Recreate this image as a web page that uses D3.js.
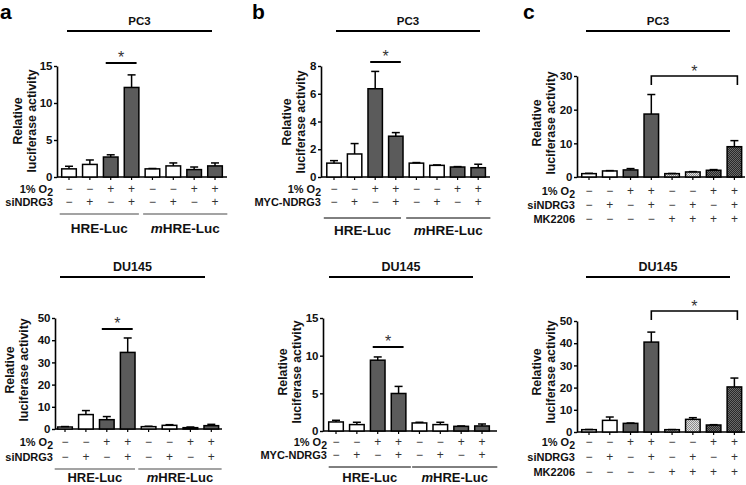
<!DOCTYPE html>
<html><head><meta charset="utf-8">
<script src="https://cdn.jsdelivr.net/npm/d3@7"></script>
<style>body{margin:0;background:#fff}svg{display:block}text{font-family:"Liberation Sans",Arial,Helvetica,sans-serif}</style>
</head><body><svg id="fig" width="746" height="485"></svg>
<script>
// ---------- data ----------
const conditionsAB_O2 = [0,0,1,1,0,0,1,1];
const conditionsAB_si = [0,1,0,1,0,1,0,1];
const conditionsC_O2  = [0,0,1,1,0,0,1,1];
const conditionsC_si  = [0,1,0,1,0,1,0,1];
const conditionsC_MK  = [0,0,0,0,1,1,1,1];

const aPC3Mean   = [1.1, 1.7, 2.7, 12.1, 1.1, 1.5, 1.0, 1.5];
const aPC3Err    = [0.35,0.6, 0.3, 1.7, 0.05,0.4, 0.35,0.4];
const aDU145Mean = [0.9, 6.5, 4.2, 34.5, 1.05,1.65,0.6, 1.5];
const aDU145Err  = [0.2, 1.8, 1.4, 6.5, 0.2, 0.3, 0.3, 0.6];

const bPC3Mean   = [1.0, 1.66,6.36,2.94,1.0, 0.84,0.72,0.67];
const bPC3Err    = [0.18,0.75,1.25,0.26,0.04,0.03,0.03,0.25];
const bDU145Mean = [1.2, 0.85,9.4, 4.98,1.07,0.85,0.62,0.67];
const bDU145Err  = [0.22,0.31,0.43,0.94,0.09,0.31,0.05,0.26];

const cPC3Mean   = [1.0, 1.8, 2.1, 18.7,1.0, 1.5, 2.0, 9.0];
const cPC3Err    = [0.1, 0.1, 0.4, 5.8, 0.05,0.1, 0.2, 1.8];
const cDU145Mean = [1.05,5.25,3.9, 40.5,1.05,5.7, 3.15,20.3];
const cDU145Err  = [0.1, 1.5, 0.15,4.5, 0.05,0.75,0.15,4.0];

const ticks15 = [0,5,10,15];
const ticks8  = [0,2,4,6,8];
const ticks30 = [0,10,20,30];
const ticks50 = [0,10,20,30,40,50];

const groupLabels = ["HRE-Luc","mHRE-Luc"];
const rowLabelO2 = "1% O";
const rowLabelSi = "siNDRG3";
const rowLabelMyc = "MYC-NDRG3";
const rowLabelMK = "MK2206";
const yTitle = ["Relative","luciferase activity"];

// ---------- drawing ----------
const svg = d3.select("#fig");
const defs = svg.append("defs");
function checker(id, c1, c2){
  const p = defs.append("pattern").attr("id",id).attr("width",2).attr("height",2).attr("patternUnits","userSpaceOnUse");
  p.append("rect").attr("width",2).attr("height",2).attr("fill",c1);
  p.append("rect").attr("width",1).attr("height",1).attr("fill",c2);
  p.append("rect").attr("x",1).attr("y",1).attr("width",1).attr("height",1).attr("fill",c2);
}
checker("lightHatch","#e0e0e0","#8a8a8a");
checker("darkHatch","#2a2a2a","#6a6a6a");
const DARK = "#5b5b5b";
const FONT = '"Liberation Sans",Arial,Helvetica,sans-serif';

function panel(cfg){
  const g = svg.append("g");
  const n = cfg.means.length;
  const a = cfg.cx0 - cfg.step/2;
  const x = d3.scaleBand().domain(d3.range(n)).range([a, a + cfg.step*n]).paddingInner(0.3).paddingOuter(0.15);
  const y = d3.scaleLinear().domain([0, cfg.max]).range([cfg.y0, cfg.yTop]);
  const bw = x.bandwidth();
  const cx = i => x(i) + bw/2;

  // y axis
  const ya = g.append("g").attr("transform",`translate(${cfg.axisX},0)`)
    .call(d3.axisLeft(y).tickValues(cfg.ticks).tickSize(3).tickSizeOuter(0).tickPadding(1.5));
  ya.select(".domain").attr("stroke","#000").attr("stroke-width",1.6);
  ya.selectAll(".tick line").attr("stroke","#000").attr("stroke-width",1.4);
  ya.selectAll(".tick text").attr("font-family",FONT).attr("font-weight","bold").attr("font-size",11.5).attr("fill","#111");

  // x axis ticks
  const xa = g.append("g").attr("transform",`translate(0,${cfg.y0})`)
    .call(d3.axisBottom(x).tickSize(3).tickFormat(""));
  xa.select(".domain").remove();
  xa.selectAll(".tick line").attr("stroke","#000").attr("stroke-width",1.2);
  g.append("line").attr("x1",cfg.axisX).attr("x2",cfg.xEnd).attr("y1",cfg.y0).attr("y2",cfg.y0)
    .attr("stroke","#000").attr("stroke-width",1.6);

  // bars
  const idx = d3.range(n);
  g.selectAll("rect.bar").data(idx).join("rect").attr("class","bar")
    .attr("x",i=>x(i)).attr("width",bw)
    .attr("y",i=>y(cfg.means[i])).attr("height",i=>cfg.y0 - y(cfg.means[i]))
    .attr("fill",i=>cfg.fill(i)).attr("stroke","#000").attr("stroke-width",1.5);
  // error bars
  g.selectAll("line.err").data(idx).join("line").attr("class","err")
    .attr("x1",cx).attr("x2",cx).attr("y1",i=>y(cfg.means[i])).attr("y2",i=>y(cfg.means[i]+cfg.errs[i]))
    .attr("stroke","#000").attr("stroke-width",1.5);
  g.selectAll("line.cap").data(idx).join("line").attr("class","cap")
    .attr("x1",i=>cx(i)-4).attr("x2",i=>cx(i)+4).attr("y1",i=>y(cfg.means[i]+cfg.errs[i])).attr("y2",i=>y(cfg.means[i]+cfg.errs[i]))
    .attr("stroke","#000").attr("stroke-width",1.5);

  // y title
  const yt = g.append("text").attr("transform",`translate(${cfg.ytX},${cfg.ytY}) rotate(-90)`)
    .attr("text-anchor","middle").attr("font-family",FONT).attr("font-weight","bold").attr("font-size",12.3).attr("fill","#111");
  yt.append("tspan").attr("x",0).attr("y",0).text(yTitle[0]);
  yt.append("tspan").attr("x",0).attr("y",14).text(yTitle[1]);

  // condition rows
  cfg.rows.forEach((r,k)=>{
    const ry = cfg.rowY[k];
    const t = g.append("text").attr("x",cfg.labelX).attr("y",ry).attr("text-anchor","end")
      .attr("font-family",FONT).attr("font-weight","bold").attr("font-size",11).attr("fill","#111");
    t.append("tspan").text(r.label);
    if (r.sub) t.append("tspan").attr("dy",2.5).attr("font-size",10.5).text(r.sub);
    g.selectAll(null).data(idx).join("text").attr("x",cx).attr("y",ry)
      .attr("text-anchor","middle").attr("font-family",FONT).attr("font-size",12).attr("fill","#333")
      .text(i=> r.vals[i] ? "+" : "\u2212");
  });

  // title over panel
  g.append("text").attr("x",(cfg.titleLine[0]+cfg.titleLine[1])/2).attr("y",cfg.titleY)
    .attr("text-anchor","middle").attr("font-family",FONT).attr("font-weight","bold").attr("font-size",cfg.titleSize).attr("fill","#111")
    .text(cfg.title);
  g.append("line").attr("x1",cfg.titleLine[0]).attr("x2",cfg.titleLine[1]).attr("y1",cfg.titleY+6).attr("y2",cfg.titleY+6)
    .attr("stroke","#000").attr("stroke-width",2);

  // significance
  if (cfg.sig){
    const [i1,i2] = cfg.sig.bars;
    if (cfg.sig.bracket){
      const xl = cx(i1), xr = cx(i2)+3;
      g.append("path").attr("d",`M${xl},${cfg.sig.y+9}V${cfg.sig.y}H${xr}V${cfg.sig.y+9}`)
        .attr("fill","none").attr("stroke","#000").attr("stroke-width",1.6);
      g.append("text").attr("x",(xl+xr)/2).attr("y",cfg.sig.y+1).attr("text-anchor","middle")
        .attr("font-family",FONT).attr("font-size",16).attr("fill","#333").text("*");
    } else {
      const xl = cx(i1)-5, xr = cx(i2)+5;
      g.append("line").attr("x1",xl).attr("x2",xr).attr("y1",cfg.sig.y).attr("y2",cfg.sig.y)
        .attr("stroke","#000").attr("stroke-width",2);
      g.append("text").attr("x",(xl+xr)/2).attr("y",cfg.sig.y).attr("text-anchor","middle")
        .attr("font-family",FONT).attr("font-size",16).attr("fill","#333").text("*");
    }
  }

  // group lines
  if (cfg.groups){
    const gs = [[0,3],[4,7]];
    gs.forEach((gr,k)=>{
      const x1 = x(gr[0]) - cfg.groups.padL, x2 = x(gr[1]) + bw + cfg.groups.padR[k];
      g.append("line").attr("x1",x1).attr("x2",x2).attr("y1",cfg.groups.y).attr("y2",cfg.groups.y)
        .attr("stroke",cfg.groups.color).attr("stroke-width",cfg.groups.width);
      const t = g.append("text").attr("x",(x1+x2)/2).attr("y",cfg.groups.textY).attr("text-anchor","middle")
        .attr("font-family",FONT).attr("font-weight","bold").attr("font-size",cfg.groups.size).attr("fill","#111");
      const lab = groupLabels[k];
      if (lab.startsWith("m")) { t.append("tspan").attr("font-style","italic").text("m"); t.append("tspan").text(lab.slice(1)); }
      else t.text(lab);
    });
  }
}

const fillAB = o2 => i => o2[i] ? DARK : "#fff";
const fillC = i => {
  const o = conditionsC_O2[i], m = conditionsC_MK[i];
  if (!m) return o ? DARK : "#fff";
  return o ? "url(#darkHatch)" : "url(#lightHatch)";
};
const rowsA = [{label:rowLabelO2, sub:"2", vals:conditionsAB_O2},{label:rowLabelSi, vals:conditionsAB_si}];
const rowsB = [{label:rowLabelO2, sub:"2", vals:conditionsAB_O2},{label:rowLabelMyc, vals:conditionsAB_si}];
const rowsC = [{label:rowLabelO2, sub:"2", vals:conditionsC_O2},{label:rowLabelSi, vals:conditionsC_si},{label:rowLabelMK, vals:conditionsC_MK}];

// panel a
panel({means:aPC3Mean, errs:aPC3Err, ticks:ticks15, max:15, cx0:69, step:20.86, y0:177, yTop:66, axisX:57, xEnd:227,
  fill:fillAB(conditionsAB_O2), rows:rowsA, rowY:[193,206], labelX:53, ytX:22, ytY:121,
  title:"PC3", titleY:25, titleSize:11.5, titleLine:[67,212], sig:{bars:[2,3], y:63},
  groups:{y:214, color:"#a3a3a3", width:2, padL:2, padR:[0,5], textY:233, size:13.5}});
panel({means:aDU145Mean, errs:aDU145Err, ticks:ticks50, max:50, cx0:65, step:20.9, y0:429, yTop:318, axisX:55, xEnd:222,
  fill:fillAB(conditionsAB_O2), rows:rowsA, rowY:[446,461], labelX:53, ytX:14, ytY:370,
  title:"DU145", titleY:271, titleSize:12.5, titleLine:[60,205], sig:{bars:[2,3], y:329},
  groups:{y:469, color:"#a3a3a3", width:2, padL:3, padR:[0,3], textY:481.5, size:13}});
// panel b
panel({means:bPC3Mean, errs:bPC3Err, ticks:ticks8, max:8, cx0:334, step:20.6, y0:177, yTop:66, axisX:321, xEnd:490,
  fill:fillAB(conditionsAB_O2), rows:rowsB, rowY:[193,206], labelX:321, ytX:291, ytY:122,
  title:"PC3", titleY:25, titleSize:11.5, titleLine:[336,480], sig:{bars:[2,3], y:62},
  groups:{y:218, color:"#000", width:1, padL:3, padR:[-2,5], textY:235, size:13.5}});
panel({means:bDU145Mean, errs:bDU145Err, ticks:ticks15, max:15, cx0:336, step:20.86, y0:431, yTop:318, axisX:323, xEnd:497,
  fill:fillAB(conditionsAB_O2), rows:rowsB, rowY:[446,459], labelX:327, ytX:287, ytY:372,
  title:"DU145", titleY:271, titleSize:12.5, titleLine:[329,473], sig:{bars:[2,3], y:347},
  groups:{y:467, color:"#000", width:1, padL:0, padR:[5,8], textY:481.5, size:13}});
// panel c
panel({means:cPC3Mean, errs:cPC3Err, ticks:ticks30, max:30, cx0:589, step:20.77, y0:177, yTop:76, axisX:577, xEnd:745,
  fill:fillC, rows:rowsC, rowY:[195,209,223], labelX:575, ytX:541, ytY:123,
  title:"PC3", titleY:25, titleSize:11.5, titleLine:[586,730], sig:{bars:[3,7], y:76, bracket:true}});
panel({means:cDU145Mean, errs:cDU145Err, ticks:ticks50, max:50, cx0:589, step:20.77, y0:432, yTop:321, axisX:577, xEnd:745,
  fill:fillC, rows:rowsC, rowY:[446,461,476], labelX:575, ytX:541, ytY:372,
  title:"DU145", titleY:271, titleSize:12.5, titleLine:[586,730], sig:{bars:[3,7], y:311, bracket:true}});

// panel letters
[["a",0],["b",252],["c",523]].forEach(([l,xx])=>{
  svg.append("text").attr("x",xx).attr("y",19).attr("font-family",FONT).attr("font-weight","bold").attr("font-size",21).attr("fill","#000").text(l);
});
</script></body></html>
